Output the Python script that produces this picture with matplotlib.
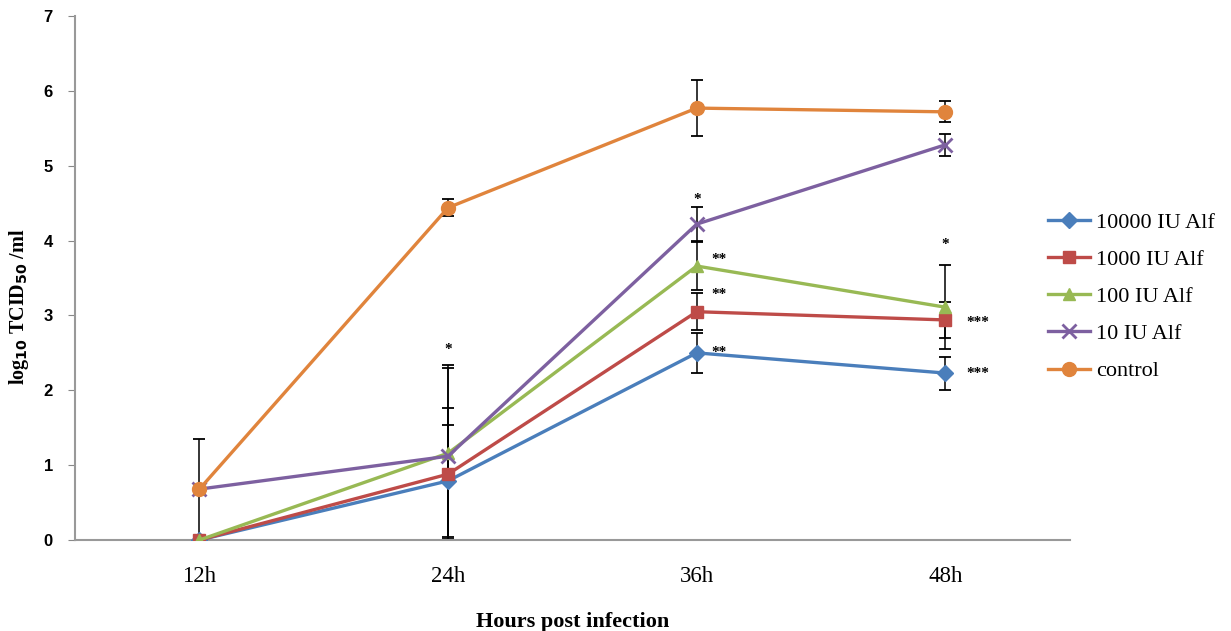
import matplotlib.pyplot as plt
import numpy as np

plt.rcParams['font.family'] = ['Liberation Serif', 'DejaVu Serif']
plt.rcParams['mathtext.fontset'] = 'custom'
plt.rcParams['mathtext.rm'] = 'Liberation Serif:bold'

# Data
hours = ['12h', '24h', '36h', '48h']
series_names = ['10000 IU Alf', '1000 IU Alf', '100 IU Alf', '10 IU Alf', 'control']

alf_10000 = [0.0, 0.79, 2.50, 2.23]
alf_1000 = [0.0, 0.88, 3.05, 2.94]
alf_100 = [0.0, 1.16, 3.66, 3.11]
alf_10 = [0.68, 1.12, 4.22, 5.28]
control = [0.68, 4.44, 5.77, 5.72]

err_10000 = [0.0, 0.75, 0.27, 0.22]
err_1000 = [0.0, 0.88, 0.25, 0.24]
err_100 = [0.0, 1.14, 0.32, 0.56]
err_10 = [0.0, 1.22, 0.23, 0.15]
err_control = [0.67, 0.11, 0.37, 0.14]

# significance marks: category index, y value, text, x offset in categories
stars_x = [1, 2, 2, 2, 2, 3, 3, 3]
stars_y = [2.55, 4.55, 3.75, 3.28, 2.50, 3.95, 2.91, 2.23]
stars_txt = ['*', '*', '**', '**', '**', '*', '***', '***']
stars_dx = [0.0, 0.0, 0.09, 0.09, 0.09, 0.0, 0.13, 0.13]

values = [alf_10000, alf_1000, alf_100, alf_10, control]
errors = [err_10000, err_1000, err_100, err_10, err_control]
colors = ['#4a7ebb', '#be4b48', '#98b954', '#7d60a0', '#e0843c']
markers = ['D', 's', '^', 'x', 'o']
msizes = [8, 9, 9, 10, 10]

fig = plt.figure(figsize=(12.31, 6.31), dpi=100)
ax = fig.add_axes([0.061, 0.1442, 0.808, 0.8304])

x = np.arange(len(hours))
for vals, errs, c, m, ms, name in zip(values, errors, colors, markers, msizes, series_names):
    ax.errorbar(x, vals, yerr=errs, fmt='none', ecolor='black', elinewidth=1.1,
                capsize=4, capthick=1.3, zorder=2)
    ax.plot(x, vals, color=c, marker=m, markersize=ms, linewidth=2.4,
            markeredgewidth=2 if m == 'x' else 1, markeredgecolor=c,
            label=name, zorder=3)

for xi, yi, t, dx in zip(stars_x, stars_y, stars_txt, stars_dx):
    ax.text(xi + dx, yi, t, ha='center', va='center', fontsize=11,
            fontweight='bold', color='black')

ax.set_xlim(-0.5, 3.5)
ax.set_ylim(0, 7)
ax.set_xticks(x)
ax.set_xticklabels(hours, fontsize=16.5)
ax.set_yticks(range(8))
ax.set_yticklabels([str(i) for i in range(8)], fontsize=12, fontweight='bold',
                   family=['Liberation Sans'])
ax.tick_params(axis='x', length=0, pad=19)
ax.tick_params(axis='y', length=5, color='#888888', pad=11)

for s in ['top', 'right']:
    ax.spines[s].set_visible(False)
for s in ['left', 'bottom']:
    ax.spines[s].set_color('#999999')
    ax.spines[s].set_linewidth(1.5)

ax.set_xlabel('Hours post infection', fontsize=16, fontweight='bold', labelpad=18)
ax.set_ylabel(r'log$_{\mathbf{10}}$ TCID$_{\mathbf{50}}$ /ml', fontsize=14.5,
              fontweight='bold')
ax.yaxis.set_label_coords(-0.044, 0.445)

fig.legend(loc='upper left', bbox_to_anchor=(1048 / 1231, 1 - 212 / 631),
           frameon=False, fontsize=16, handlelength=1.9, labelspacing=0.75,
           handletextpad=0.25, borderpad=0, borderaxespad=0)

fig.savefig('out.png', dpi=100)
